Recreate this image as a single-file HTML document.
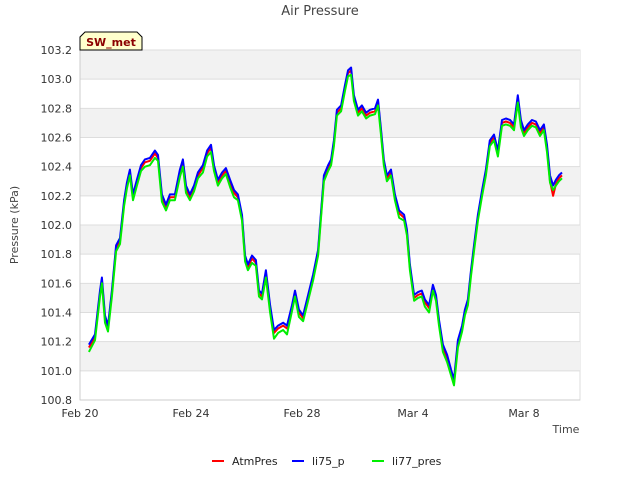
<!DOCTYPE html>
<html><head><meta charset="utf-8"><style>
body{margin:0;background:#fff}
svg{font-family:"DejaVu Sans","Liberation Sans",sans-serif}
</style></head><body>
<svg id="chart" width="640" height="480" xmlns="http://www.w3.org/2000/svg">
<rect width="640" height="480" fill="#fff"/>
<text x="320" y="15" text-anchor="middle" font-size="13" fill="#444">Air Pressure</text>
<g id="bands"></g>
<g id="yticks"></g>
<g id="xticks"></g>
<g id="series"></g>
<path d="M80,50 L80,37 L85,32 L137,32 L142,37 L142,50 Z" fill="#ffffcc" stroke="#000" stroke-width="1"/>
<text x="111" y="46" text-anchor="middle" font-size="11" font-weight="bold" fill="#8b0000">SW_met</text>
<text x="18" y="225" text-anchor="middle" font-size="11" fill="#444" transform="rotate(-90 18 225)">Pressure (kPa)</text>
<text x="566" y="433" text-anchor="middle" font-size="11" fill="#444">Time</text>
<g>
<line x1="212" y1="461" x2="224" y2="461" stroke="#ff0000" stroke-width="2"/>
<text x="232" y="465" font-size="11" fill="#222">AtmPres</text>
<line x1="292" y1="461" x2="304" y2="461" stroke="#0000ff" stroke-width="2"/>
<text x="312" y="465" font-size="11" fill="#222">li75_p</text>
<line x1="372" y1="461" x2="384" y2="461" stroke="#00ee00" stroke-width="2"/>
<text x="392" y="465" font-size="11" fill="#222">li77_pres</text>
</g>
</svg>
<script>
const days=[.32,.54,.72,.79,.9,1.01,1.15,1.3,1.44,1.59,1.69,1.8,1.91,2.05,2.2,2.34,2.52,2.7,2.81,2.95,3.1,3.24,3.42,3.6,3.71,3.82,3.96,4.11,4.25,4.43,4.58,4.72,4.83,4.97,5.12,5.26,5.41,5.55,5.69,5.84,5.95,6.05,6.2,6.34,6.45,6.56,6.7,6.85,6.99,7.14,7.32,7.46,7.64,7.75,7.89,8.04,8.22,8.4,8.58,8.68,8.79,8.94,9.05,9.15,9.26,9.41,9.55,9.66,9.77,9.87,10.02,10.16,10.31,10.45,10.63,10.74,10.85,10.95,11.06,11.21,11.35,11.5,11.68,11.78,11.89,12.04,12.18,12.32,12.43,12.58,12.72,12.83,12.94,13.08,13.23,13.37,13.48,13.62,13.77,13.87,13.98,14.09,14.2,14.34,14.49,14.63,14.77,14.92,15.06,15.21,15.35,15.5,15.64,15.78,15.89,16,16.14,16.29,16.43,16.58,16.72,16.83,16.94,17.05,17.15,17.26,17.37];
const li75=[101.18,101.25,101.55,101.64,101.38,101.31,101.55,101.86,101.91,102.17,102.29,102.38,102.21,102.31,102.41,102.45,102.46,102.51,102.48,102.21,102.14,102.21,102.21,102.38,102.45,102.27,102.21,102.27,102.36,102.41,102.51,102.55,102.41,102.31,102.36,102.39,102.31,102.24,102.21,102.07,101.79,101.73,101.79,101.76,101.55,101.53,101.69,101.45,101.28,101.31,101.33,101.31,101.45,101.55,101.42,101.38,101.52,101.66,101.83,102.07,102.34,102.41,102.45,102.58,102.79,102.82,102.96,103.06,103.08,102.89,102.79,102.82,102.77,102.79,102.80,102.86,102.65,102.45,102.34,102.38,102.21,102.10,102.07,101.97,101.73,101.52,101.54,101.55,101.49,101.45,101.59,101.52,101.35,101.18,101.11,101.01,100.94,101.21,101.31,101.42,101.49,101.69,101.86,102.07,102.24,102.38,102.58,102.62,102.51,102.72,102.73,102.72,102.69,102.89,102.72,102.65,102.69,102.72,102.71,102.65,102.69,102.55,102.34,102.27,102.31,102.34,102.36];
const atmPres=[101.16,101.23,101.53,101.62,101.36,101.29,101.53,101.84,101.89,102.15,102.27,102.36,102.19,102.29,102.39,102.43,102.44,102.49,102.46,102.19,102.12,102.19,102.19,102.36,102.43,102.25,102.19,102.25,102.34,102.39,102.49,102.53,102.39,102.29,102.34,102.37,102.29,102.22,102.19,102.05,101.77,101.71,101.77,101.74,101.53,101.51,101.67,101.43,101.26,101.29,101.31,101.29,101.43,101.53,101.40,101.36,101.50,101.64,101.81,102.05,102.32,102.39,102.43,102.56,102.77,102.80,102.94,103.04,103.06,102.87,102.77,102.80,102.75,102.77,102.78,102.85,102.63,102.43,102.32,102.36,102.19,102.08,102.05,101.95,101.71,101.50,101.52,101.53,101.47,101.43,101.57,101.50,101.33,101.16,101.09,100.99,100.92,101.19,101.29,101.40,101.47,101.67,101.84,102.05,102.22,102.36,102.56,102.60,102.49,102.70,102.71,102.70,102.67,102.87,102.70,102.63,102.67,102.70,102.69,102.63,102.67,102.53,102.30,102.20,102.28,102.32,102.34];
const li77=[101.13,101.21,101.51,101.60,101.33,101.27,101.51,101.82,101.87,102.13,102.25,102.34,102.17,102.27,102.37,102.40,102.41,102.46,102.44,102.16,102.10,102.17,102.17,102.33,102.40,102.22,102.17,102.23,102.32,102.36,102.47,102.50,102.37,102.27,102.32,102.35,102.26,102.19,102.17,102.03,101.75,101.69,101.74,101.72,101.51,101.49,101.64,101.40,101.22,101.26,101.28,101.25,101.41,101.51,101.37,101.34,101.48,101.62,101.79,102.03,102.30,102.37,102.41,102.54,102.75,102.78,102.92,103.02,103.03,102.85,102.75,102.78,102.73,102.75,102.76,102.82,102.61,102.41,102.30,102.34,102.17,102.05,102.03,101.93,101.69,101.48,101.50,101.51,101.44,101.40,101.55,101.48,101.31,101.13,101.06,100.97,100.90,101.16,101.27,101.38,101.45,101.65,101.82,102.03,102.20,102.34,102.54,102.58,102.47,102.68,102.69,102.68,102.65,102.84,102.67,102.61,102.65,102.68,102.67,102.61,102.65,102.50,102.29,102.24,102.27,102.30,102.32];
const yTickValues=[100.8,101.0,101.2,101.4,101.6,101.8,102.0,102.2,102.4,102.6,102.8,103.0,103.2];
const xTickDays=[0,4,8,12,16];
const xTickLabels=["Feb 20","Feb 24","Feb 28","Mar 4","Mar 8"];

const NS="http://www.w3.org/2000/svg";
const L=80,R=580,T=50,B=400,yMin=100.8,yMax=103.2,dMax=18.02;
const xs=d=>L+d/dMax*(R-L);
const ys=v=>B-(v-yMin)/(yMax-yMin)*(B-T);
function mk(tag,attrs,parent){const e=document.createElementNS(NS,tag);for(const k in attrs)e.setAttribute(k,attrs[k]);parent.appendChild(e);return e;}
const bands=document.getElementById('bands');
mk('rect',{x:L,y:T,width:R-L,height:B-T,fill:'#fff',stroke:'#ddd'},bands);
for(let i=0;i<yTickValues.length-1;i++){
  if((yTickValues.length-2-i)%2===0){
    const r=mk('rect',{x:L,y:ys(yTickValues[i+1]),width:R-L,height:ys(yTickValues[i])-ys(yTickValues[i+1]),fill:'#f2f2f2'},bands);
    
    
  }
}
const yt=document.getElementById('yticks');
yTickValues.forEach(v=>{
  const g=mk('line',{x1:L,x2:R,y1:ys(v),y2:ys(v),stroke:'#ddd','stroke-width':1},yt);
  
  
  const t=mk('text',{x:L-8,y:ys(v)+4,'text-anchor':'end','font-size':11,fill:'#333'},yt);
  t.textContent=v.toFixed(1);
  
  
});
mk('line',{x1:L,x2:L,y1:T,y2:B,stroke:'#ccc'},yt);
mk('line',{x1:L,x2:R,y1:B,y2:B,stroke:'#ccc'},yt);
const xt=document.getElementById('xticks');
xTickDays.forEach((d,i)=>{
  const t=mk('text',{x:xs(d),y:B+17,'text-anchor':'middle','font-size':11,fill:'#333'},xt);
  t.textContent=xTickLabels[i];
  
  
});
const sg=document.getElementById('series');
[[atmPres,'#ff0000','series-atmpres'],[li75,'#0000ff','series-li75-p'],[li77,'#00ee00','series-li77-pres']].forEach(([vals,c,n])=>{
  const p=mk('path',{d:vals.map((v,i)=>(i?'L':'M')+xs(days[i]).toFixed(1)+','+ys(v).toFixed(1)).join(''),fill:'none',stroke:c,'stroke-width':2,'stroke-linejoin':'round'},sg);
  
  
});
</script>
</body></html>
